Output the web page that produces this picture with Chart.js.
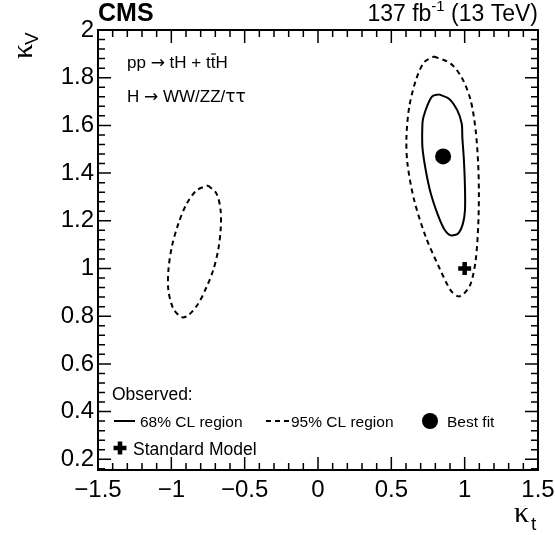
<!DOCTYPE html>
<html><head><meta charset="utf-8">
<script src="https://cdn.jsdelivr.net/npm/chart.js@4/dist/chart.umd.min.js"></script>
<style>html,body{margin:0;padding:0;background:#fff;overflow:hidden}#wrap{width:555px;height:535px;overflow:hidden;position:relative}canvas{display:block}</style>
</head><body><div id="wrap"><canvas id="c"></canvas></div>
<script>
const xTickVals = [-1.5, -1, -0.5, 0, 0.5, 1, 1.5];
const yTickVals = [0.2, 0.4, 0.6, 0.8, 1, 1.2, 1.4, 1.6, 1.8, 2];
const xRange = [-1.5, 1.5];
const yRange = [0.155, 2.0];

const cl95MainX = [0.791,0.905,0.984,1.041,1.075,1.092,1.097,1.092,1.075,1.041,0.995,0.957,0.905,0.825,0.735,0.656,0.610,0.603,0.622,0.667,0.724];
const cl95MainY = [1.889,1.859,1.796,1.705,1.579,1.439,1.314,1.174,1.034,0.936,0.894,0.883,0.908,1.006,1.132,1.286,1.439,1.551,1.677,1.789,1.865];
const cl95LeftX = [-0.749,-0.692,-0.664,-0.664,-0.681,-0.715,-0.760,-0.817,-0.885,-0.929,-0.986,-1.020,-1.020,-0.997,-0.952,-0.895,-0.827];
const cl95LeftY = [1.348,1.314,1.244,1.160,1.076,0.992,0.922,0.852,0.803,0.796,0.831,0.908,0.992,1.090,1.188,1.272,1.328];
const cl68X = [0.825,0.893,0.950,0.980,0.984,0.995,1.002,1.002,0.988,0.957,0.905,0.859,0.814,0.769,0.735,0.712,0.712,0.719,0.746,0.780];
const cl68Y = [1.730,1.712,1.663,1.607,1.551,1.453,1.341,1.244,1.188,1.148,1.139,1.167,1.230,1.314,1.411,1.509,1.607,1.635,1.684,1.722];
const bestFit = [0.853, 1.47];
const standardModel = [1.0, 1.0];

function closed(xs, ys){ const p = xs.map((x,i)=>({x:x,y:ys[i]})); p.push({x:xs[0],y:ys[0]}); return p; }
const FONT = "'Liberation Sans', Arial, Helvetica, sans-serif";
const GREEK = "'DejaVu Sans', sans-serif";
const SERIF = "'Liberation Serif', 'DejaVu Serif', serif";
const fmt = v => String(v).replace('-', '\u2212');

const decor = {
  id:'decor',
  beforeDraw(chart){ const c=chart.ctx; c.save(); c.fillStyle='#fff'; c.fillRect(0,0,chart.width,chart.height); c.restore(); },
  afterDraw(chart){
    const c = chart.ctx, a = chart.chartArea, xs = chart.scales.x, ys = chart.scales.y;
    c.save();
    c.strokeStyle='#000'; c.lineWidth=1.5;
    const tick = (v, axis, len) => {
      if (axis==='x'){ const px = xs.getPixelForValue(v);
        c.beginPath(); c.moveTo(px,a.bottom); c.lineTo(px,a.bottom-len); c.moveTo(px,a.top); c.lineTo(px,a.top+len); c.stroke(); }
      else { const py = ys.getPixelForValue(v);
        c.beginPath(); c.moveTo(a.left,py); c.lineTo(a.left+len,py); c.moveTo(a.right,py); c.lineTo(a.right-len,py); c.stroke(); }
    };
    for (let i=-15;i<=15;i++){ tick(i/10,'x', (i%5===0)?13:7); }
    for (let i=4;i<=50;i++){ tick(i*0.04,'y', (i%5===0)?13:7); }
    c.lineWidth=2;
    c.strokeRect(a.left, a.top, a.right-a.left, a.bottom-a.top);
    c.fillStyle='#000';
    c.textBaseline='alphabetic';
    c.textAlign='left'; c.font='bold 25px '+FONT; c.fillText('CMS', 98, 21);
    c.textAlign='right'; c.font='23px '+FONT;
    const t2=' (13 TeV)'; const w2=c.measureText(t2).width;
    c.fillText(t2, a.right, 21);
    c.font='15px '+FONT; const sup='-1'; const ws=c.measureText(sup).width;
    c.fillText(sup, a.right-w2, 11);
    c.font='23px '+FONT; c.fillText('137 fb', a.right-w2-ws, 21);
    c.textAlign='left';
    const seg = (parts, x, y) => { for (const [txt, f] of parts){ c.font=f; c.fillText(txt,x,y); x+=c.measureText(txt).width; } return x; };
    const F17='17px '+FONT, A17='17px '+GREEK;
    let x1 = seg([['pp ',F17],['\u2192',A17],[' tH + t',F17]], 127, 68);
    c.font=F17; const tw=c.measureText('t').width;
    c.fillText('t',x1,68);
    c.lineWidth=1.2; c.beginPath(); c.moveTo(x1+0.5,54); c.lineTo(x1+tw+0.5,54); c.stroke();
    c.fillText('H',x1+tw,68);
    seg([['H ',F17],['\u2192',A17],[' WW/ZZ/',F17],['\u03c4\u03c4',A17]], 127, 102);
    c.save(); c.translate(32, 59); c.rotate(-Math.PI/2);
    c.font='30px '+SERIF; c.fillText('\u03ba',0,0); const kw=c.measureText('\u03ba').width;
    c.font='19px '+FONT; c.fillText('V',kw-1,6); c.restore();
    c.font='30px '+SERIF; c.fillText('\u03ba', 514, 522);
    c.font='19px '+FONT; c.fillText('t', 531, 530);
    c.font='17.5px '+FONT; c.fillText('Observed:', 112, 400);
    c.font='15.5px '+FONT;
    c.lineWidth=2; c.setLineDash([]);
    c.beginPath(); c.moveTo(114,421); c.lineTo(135,421); c.stroke();
    c.fillText('68% CL region', 140, 427);
    c.setLineDash([5,4]); c.beginPath(); c.moveTo(266,421); c.lineTo(289,421); c.stroke(); c.setLineDash([]);
    c.fillText('95% CL region', 291, 427);
    c.beginPath(); c.arc(430,421,8,0,Math.PI*2); c.fill();
    c.fillText('Best fit', 447, 427);
    c.lineWidth=4.5; c.beginPath(); c.moveTo(113.5,448); c.lineTo(126.5,448); c.moveTo(120,441.5); c.lineTo(120,454.5); c.stroke();
    c.font='17.5px '+FONT; c.fillText('Standard Model', 133, 455);
    c.restore();
  }
};

const zeroPad = s => { s.paddingLeft = 0; s.paddingRight = 0; s.paddingTop = 0; s.paddingBottom = 0; };

new Chart(document.getElementById('c'), {
  type:'scatter',
  data:{ datasets:[
    {data:closed(cl95MainX,cl95MainY), showLine:true, borderColor:'#000', borderWidth:2, borderDash:[5,4], pointRadius:0, tension:0.3, fill:false},
    {data:closed(cl95LeftX,cl95LeftY), showLine:true, borderColor:'#000', borderWidth:2, borderDash:[5,4], pointRadius:0, tension:0.3, fill:false},
    {data:closed(cl68X,cl68Y), showLine:true, borderColor:'#000', borderWidth:2, pointRadius:0, tension:0.3, fill:false},
    {data:[{x:bestFit[0],y:bestFit[1]}], pointStyle:'circle', pointRadius:8, backgroundColor:'#000', borderColor:'#000', borderWidth:0},
    {data:[{x:standardModel[0],y:standardModel[1]}], pointStyle:'cross', pointRadius:6.5, borderColor:'#000', borderWidth:4.5}
  ]},
  options:{
    responsive:true, maintainAspectRatio:false, animation:false,
    layout:{autoPadding:false, padding:{left:0, top:30, right:17, bottom:0}},
    plugins:{legend:{display:false}, tooltip:{enabled:false}},
    scales:{
      x:{ type:'linear', min:xRange[0], max:xRange[1],
          afterBuildTicks: s => { s.ticks = xTickVals.map(v=>({value:v})); },
          afterFit: s => { s.height = 65; zeroPad(s); },
          grid:{display:false, drawTicks:false}, border:{display:true, color:'#000', width:2},
          ticks:{ color:'#000', padding:6, maxRotation:0, autoSkip:false, font:{family:FONT, size:24}, callback: v => fmt(v) } },
      y:{ type:'linear', min:yRange[0], max:yRange[1],
          afterBuildTicks: s => { s.ticks = yTickVals.map(v=>({value:v})); },
          afterFit: s => { s.width = 98; zeroPad(s); },
          grid:{display:false, drawTicks:false}, border:{display:true, color:'#000', width:2},
          ticks:{ color:'#000', padding:4, autoSkip:false, font:{family:FONT, size:24}, callback: v => fmt(v) } }
    }
  },
  plugins:[decor]
});
</script></body></html>
